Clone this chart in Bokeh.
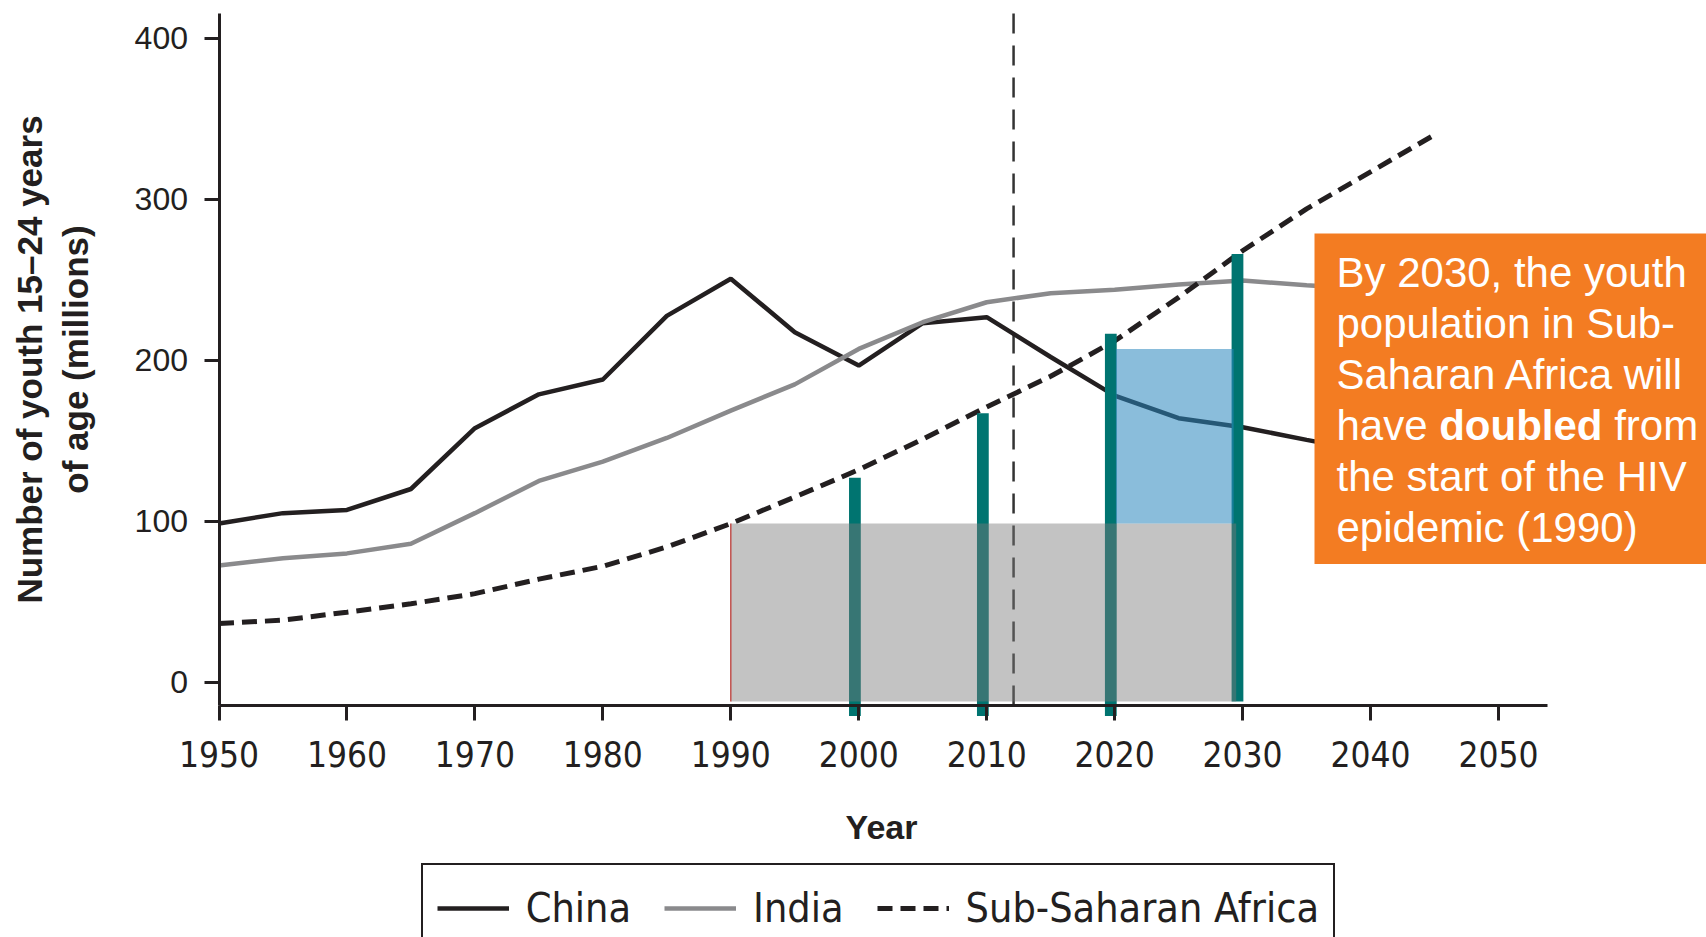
import math
from bokeh.plotting import figure
from bokeh.models import (Range1d, FixedTicker, BoxAnnotation, Label,
                          Legend, LegendItem)
from bokeh.embed import file_html
from bokeh.resources import INLINE

# ---------------- data ----------------
years = [1950, 1955, 1960, 1965, 1970, 1975, 1980, 1985, 1990, 1995,
         2000, 2005, 2010, 2015, 2020, 2025, 2030, 2035, 2040]
china = [98.6, 105, 107, 120, 157.8, 178.8, 188, 227.5, 250.6, 217.4,
         196.7, 223, 226.7, 202, 178, 164, 158.4, 150.5, 143]
india = [72.5, 77, 80, 86, 105, 125, 137, 151.7, 168.7, 185,
         207, 223.6, 236, 241.6, 243.7, 247, 249.5, 246.5, 244]

ssa_years = [1950, 1955, 1960, 1965, 1970, 1975, 1980, 1985, 1990, 1995,
             2000, 2005, 2010, 2015, 2020, 2025, 2030, 2035, 2040, 2045]
ssa = [36.5, 38.5, 43.5, 48.7, 55, 64, 72, 84, 98.5, 115,
       132, 151, 171, 190, 212, 239, 268, 294, 317, 340]

bar_years = [1999.7, 2009.7, 2019.7, 2029.6]
bar_tops = [127, 167, 216.5, 266]
bar_bottoms = [-21, -21, -21, -12]

gray_left, gray_right, gray_bottom, gray_top = [1990], [2029.5], [-12], [98.5]
blue_left, blue_right, blue_bottom, blue_top = [2020.1], [2029.3], [98.5], [207]

now_year = [2012.1]

x_ticks = [1950, 1960, 1970, 1980, 1990, 2000, 2010, 2020, 2030, 2040, 2050]
y_ticks = [0, 100, 200, 300, 400]
x_axis_span = (1950, 2053.8)
y_axis_span = (-14.5, 415.3)

series_names = ["China", "India", "Sub-Saharan Africa"]
x_title = "Year"
y_title = "Number of youth 15\u201324 years\nof age (millions)"
note_lines = ["By 2030, the youth", "population in Sub-", "Saharan Africa will",
              None, "the start of the HIV", "epidemic (1990)"]
note_line4 = [("have", "normal"), ("doubled", "bold"), ("from", "normal")]

# ---------------- layout / styles ----------------
W, H = 1706, 937
X0_PX, X_PPU = 218.5, 12.795      # pixel of 1950, pixels per year
Y0_PX, Y_PPU = 681.7, 1.61        # pixel of 0, pixels per million
INK = "#231F20"
COND = "DejaVu Sans Condensed"
SANS = "Liberation Sans"

x_range = Range1d(1950 - X0_PX / X_PPU, 1950 + (W - X0_PX) / X_PPU)
y_range = Range1d(-(H - Y0_PX) / Y_PPU, Y0_PX / Y_PPU)

p = figure(width=W, height=H, x_range=x_range, y_range=y_range,
           output_backend="svg", toolbar_location=None,
           min_border_left=0, min_border_right=0,
           min_border_top=0, min_border_bottom=0)
p.outline_line_color = None
p.grid.visible = False
p.background_fill_color = "white"
p.border_fill_color = "white"

# "now" reference line
p.segment(x0=now_year, y0=[y_axis_span[0]], x1=now_year, y1=[y_axis_span[1]],
          line_color="#333333", line_width=2.5, line_dash="20 12")

r_china = p.line(years, china, line_color=INK, line_width=4.5)
r_india = p.line(years, india, line_color="#8A8A8C", line_width=4.5)
r_ssa = p.line(ssa_years, ssa, line_color=INK, line_width=5, line_dash="15 8")

p.vbar(x=bar_years, top=bar_tops, bottom=bar_bottoms, width=0.92,
       fill_color="#007470", line_color=None)

p.quad(left=gray_left, right=gray_right, bottom=gray_bottom, top=gray_top,
       fill_color="#7A7A7A", fill_alpha=0.45, line_color=None)
p.segment(x0=gray_left, y0=gray_bottom, x1=gray_left, y1=gray_top,
          line_color="#C0504D", line_width=1.5)
p.quad(left=blue_left, right=blue_right, bottom=blue_bottom, top=blue_top,
       fill_color="#2A87BE", fill_alpha=0.55, line_color=None)

# ---------------- axes ----------------
xa = p.xaxis[0]
xa.ticker = FixedTicker(ticks=x_ticks)
xa.bounds = x_axis_span
xa.fixed_location = y_axis_span[0]
xa.axis_line_width = 3
xa.axis_line_color = INK
xa.major_tick_in = 0
xa.major_tick_out = 15
xa.major_tick_line_width = 3
xa.major_tick_line_color = INK
xa.minor_tick_line_color = None
xa.major_label_text_font = COND
xa.major_label_text_font_size = "35px"
xa.major_label_text_color = INK
xa.major_label_standoff = 20

ya = p.yaxis[0]
ya.ticker = FixedTicker(ticks=y_ticks)
ya.bounds = y_axis_span
ya.fixed_location = x_axis_span[0]
ya.axis_line_width = 3
ya.axis_line_color = INK
ya.major_tick_in = 0
ya.major_tick_out = 15
ya.major_tick_line_width = 3
ya.major_tick_line_color = INK
ya.minor_tick_line_color = None
ya.major_label_text_font = SANS
ya.major_label_text_font_size = "32px"
ya.major_label_text_color = INK
ya.major_label_standoff = 16

# axis titles
p.add_layout(Label(x=881, y=H - 826, x_units="screen", y_units="screen",
                   text=x_title, text_font=SANS, text_font_style="bold",
                   text_font_size="34px", text_color=INK,
                   text_align="center", text_baseline="alphabetic"))
p.add_layout(Label(x=52, y=H - 359, x_units="screen", y_units="screen",
                   text=y_title, text_font=SANS, text_font_style="bold",
                   text_font_size="35px", text_color=INK, angle=math.pi / 2,
                   text_align="center", text_baseline="middle"))

# ---------------- legend ----------------
legend = Legend(items=[LegendItem(label=series_names[0], renderers=[r_china]),
                       LegendItem(label=series_names[1], renderers=[r_india]),
                       LegendItem(label=series_names[2], renderers=[r_ssa])],
                orientation="horizontal", location=(420.7, -16.3),
                label_text_font=COND, label_text_font_size="41px",
                label_text_color=INK, glyph_width=72, glyph_height=58,
                label_height=58, label_standoff=17, spacing=33, padding=14,
                margin=0, border_line_color=INK, border_line_width=2.5,
                border_line_alpha=1,
                background_fill_color="white", background_fill_alpha=1)
p.add_layout(legend, "center")

# ---------------- callout ----------------
p.add_layout(BoxAnnotation(left=1314, right=W, top=H - 233, bottom=H - 563.6,
                           left_units="screen", right_units="screen",
                           top_units="screen", bottom_units="screen",
                           fill_color="#F37C22", fill_alpha=1, line_color=None,
                           level="overlay"))

tx, base0, dy = 1336, 272, 51
for i, line in enumerate(note_lines):
    if line is None:
        continue
    p.add_layout(Label(x=tx, y=H - (base0 + i * dy), x_units="screen", y_units="screen",
                       text=line, text_font=SANS, text_font_size="42px",
                       text_color="white", text_baseline="alphabetic",
                       level="overlay"))
for (txt, style), dx in zip(note_line4, [0, 102.7, 277.7]):
    p.add_layout(Label(x=tx + dx, y=H - (base0 + 3 * dy), x_units="screen", y_units="screen",
                       text=txt, text_font=SANS, text_font_size="42px",
                       text_font_style=style, text_color="white",
                       text_baseline="alphabetic", level="overlay"))

open("out.html", "w").write(file_html(p, INLINE))
